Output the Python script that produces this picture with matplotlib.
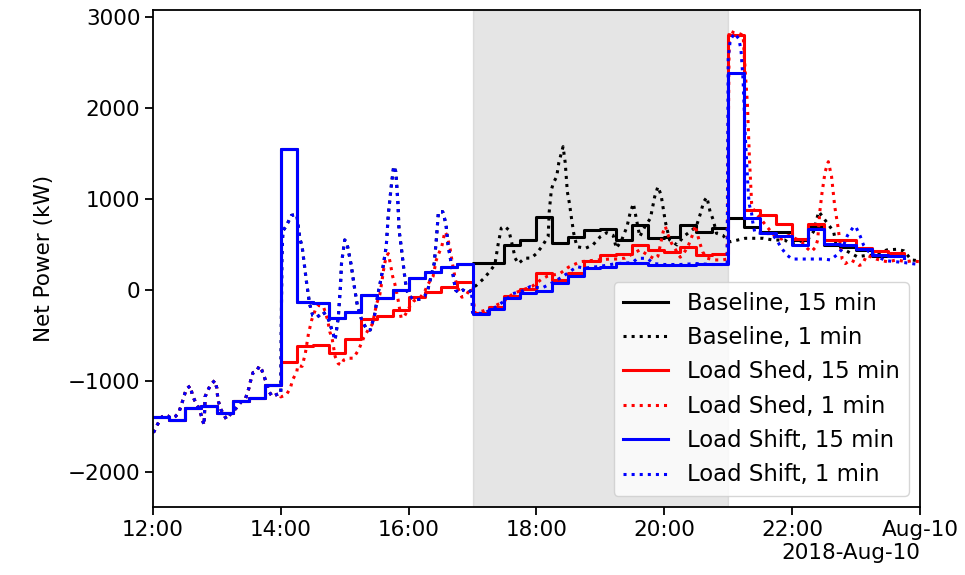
import numpy as np
import matplotlib
matplotlib.use("Agg")
import matplotlib.pyplot as plt

# ---------------- 15-minute step data (12:00 ... 23:45) ----------------
shift_15 = [-1400, -1430, -1300, -1270, -1350, -1215, -1190, -1045,
            1550, -130, -145, -310, -240, -50, -90, 0,
            135, 195, 255, 290,
            -265, -210, -90, -37, -11, 81, 158, 245,
            250, 293, 293, 275, 275, 275, 280, 282,
            2381, 788, 623, 593, 491, 670, 505, 495, 447, 385, 373, 350]

shed_15 = [-1400, -1430, -1300, -1270, -1350, -1215, -1190, -1045,
           -790, -620, -605, -695, -540, -320, -290, -220,
           -80, -20, 30, 90,
           -250, -183, -62, 7, 190, 110, 183, 322,
           385, 400, 490, 440, 421, 476, 385, 395,
           2802, 879, 824, 725, 557, 725, 549, 549, 465, 432, 403, 385]

base_15_evening = [293, 293, 495, 549, 806, 513, 586, 655,
                   670, 549, 714, 568, 586, 714, 641, 678,
                   788, 689, 641, 641, 549, 700, 495, 476, 440, 374, 373, 350]
base_15 = shift_15[:20] + base_15_evening

# ---------------- 1-minute data (read as knots: time, kW) ----------------
shift_1_t = ["12:00", "12:01", "12:04", "12:08", "12:11", "12:14", "12:17", "12:21", "12:24", "12:27",
             "12:30", "12:32", "12:35", "12:37", "12:39", "12:44", "12:46", "12:48", "12:49", "12:51",
             "12:54", "12:58", "13:00", "13:01", "13:04", "13:09", "13:12", "13:18", "13:23", "13:27",
             "13:30", "13:32", "13:34", "13:37", "13:40", "13:42", "13:45", "13:49", "13:52", "13:56",
             "13:59", "14:00", "14:01", "14:02", "14:05", "14:10", "14:15", "14:18", "14:20", "14:24",
             "14:27", "14:30", "14:34", "14:40", "14:45", "14:48", "14:51", "14:54", "14:56", "14:57",
             "15:00", "15:02", "15:06", "15:09", "15:12", "15:16", "15:21", "15:24", "15:28", "15:31",
             "15:35", "15:39", "15:41", "15:44", "15:46", "15:48", "15:50", "15:51", "15:53", "15:56",
             "15:58", "16:01", "16:06", "16:11", "16:15", "16:18", "16:24", "16:26", "16:28", "16:32",
             "16:35", "16:37", "16:41", "16:44", "16:47", "16:51", "16:56", "16:59",
             "17:00", "17:10", "17:20", "17:30", "17:38", "17:47", "17:54", "18:05", "18:15", "18:25",
             "18:38", "18:45", "19:00", "19:15", "19:30", "19:35", "19:44", "19:50", "20:00", "20:15",
             "20:30", "20:45", "20:59", "21:00", "21:02", "21:06", "21:10", "21:12", "21:14", "21:16",
             "21:19", "21:20", "21:22", "21:23", "21:25", "21:35", "21:41", "21:46", "21:50", "21:55",
             "22:00", "22:10", "22:20", "22:30", "22:36", "22:42", "22:47", "22:52", "22:58", "23:00",
             "23:04", "23:07", "23:12", "23:20", "23:28", "23:38", "23:46", "23:55", "24:00"]
shift_1_v = [-1560, -1557, -1484, -1400, -1374, -1385, -1410, -1390, -1355, -1253,
             -1136, -1080, -1055, -1154, -1209, -1319, -1410, -1484, -1172, -1117,
             -1044, -996, -1080, -1209, -1319, -1421, -1374, -1300, -1227, -1190,
             -1081, -982, -908, -897, -835, -875, -971, -1117, -1172, -1150,
             -1136, -1140, 350, 650, 700, 820, 830, 560, 480, 100,
             -150, -280, -300, -240, -330, -440, -550, -300, 40, 290,
             550, 520, 280, 40, -180, -330, -440, -440, -280, -60,
             180, 480, 840, 1170, 1360, 1300, 950, 660, 480, 180,
             0, -70, -110, -100, -70, 0, 290, 550, 860, 860,
             730, 500, 220, 0, -30, 0, -30, 0,
             -250, -260, -200, -120, -40, -10, 37, 20, 80, 150,
             256, 240, 260, 290, 300, 348, 348, 290, 280, 280,
             290, 280, 280, 2550, 2750, 2820, 2760, 2640, 2300, 1700,
             1040, 930, 840, 750, 630, 620, 620, 540, 460, 385,
             340, 340, 340, 340, 330, 385, 450, 600, 700, 690,
             590, 495, 420, 366, 322, 310, 300, 286, 280]

shed_1_t = ["14:00", "14:05", "14:09", "14:11", "14:15", "14:16", "14:20", "14:23", "14:26", "14:29",
            "14:33", "14:35", "14:40", "14:44", "14:46", "14:48", "14:51", "14:54", "14:57", "14:59",
            "15:03", "15:08", "15:13", "15:18", "15:22", "15:26", "15:30", "15:33", "15:35", "15:37",
            "15:39", "15:41", "15:43", "15:45", "15:47", "15:50", "15:53", "15:56", "16:01", "16:05",
            "16:11", "16:15", "16:18", "16:23", "16:26", "16:29", "16:31", "16:34", "16:36", "16:39",
            "16:41", "16:44", "16:47", "16:50", "16:54", "16:58", "17:00", "17:02", "17:10", "17:20",
            "17:29", "17:38", "17:47", "17:56", "18:05", "18:10", "18:22", "18:30", "18:41", "18:57",
            "19:09", "19:16", "19:23", "19:37", "19:45", "19:51", "19:54", "19:59", "20:01", "20:03",
            "20:07", "20:15", "20:18", "20:22", "20:27", "20:29", "20:33", "20:36", "20:40", "20:47",
            "20:55", "20:59", "21:01", "21:05", "21:10", "21:14", "21:16", "21:18", "21:20", "21:22",
            "21:25", "21:30", "21:36", "21:44", "21:50", "21:57", "22:04", "22:09", "22:14", "22:18",
            "22:22", "22:24", "22:26", "22:28", "22:31", "22:34", "22:37", "22:40", "22:43", "22:47",
            "22:50", "22:55", "23:00", "23:03", "23:06", "23:10", "23:15", "23:19", "23:25", "23:30",
            "23:38", "23:47", "23:52", "24:00"]
shed_1_v = [-1175, -1155, -1080, -990, -900, -830, -840, -700, -480, -330,
            -200, -170, -180, -330, -460, -520, -730, -810, -824, -770,
            -750, -750, -660, -520, -440, -375, -150, -50, 100, 260,
            370, 400, 280, 150, 70, -100, -310, -290, -183, -120,
            -80, -20, 60, 150, 330, 420, 470, 640, 600, 450,
            300, 110, 0, -80, -60, 20, 20, -250, -230, -180,
            -130, -40, 0, 40, 120, 150, 180, 250, 310, 330,
            340, 340, 350, 440, 380, 340, 370, 640, 700, 620,
            510, 360, 400, 470, 620, 710, 530, 420, 350, 330,
            330, 340, 2850, 2830, 2820, 2800, 2400, 2050, 1430, 950,
            850, 790, 700, 590, 560, 600, 560, 530, 460, 420,
            470, 550, 860, 1060, 1300, 1410, 1250, 920, 700, 340,
            290, 330, 300, 270, 280, 380, 360, 340, 320, 310,
            330, 310, 320, 310]

base_1_t = ["17:00", "17:04", "17:10", "17:16", "17:21", "17:24", "17:27", "17:30", "17:34", "17:38",
            "17:40", "17:43", "17:49", "17:55", "18:00", "18:05", "18:11", "18:12", "18:14", "18:16",
            "18:19", "18:21", "18:25", "18:27", "18:29", "18:31", "18:33", "18:35", "18:38", "18:46",
            "18:53", "19:00", "19:06", "19:12", "19:15", "19:20", "19:25", "19:28", "19:31", "19:34",
            "19:37", "19:42", "19:47", "19:51", "19:54", "19:57", "20:01", "20:05", "20:12", "20:18",
            "20:24", "20:30", "20:34", "20:37", "20:40", "20:43", "20:46", "20:49", "20:55", "20:59",
            "21:02", "21:16", "21:33", "21:42", "21:53", "21:58", "22:06", "22:15", "22:20", "22:25",
            "22:29", "22:32", "22:39", "22:41", "22:51", "23:01", "23:10", "23:16", "23:29", "23:38",
            "23:45", "23:52", "24:00"]
base_1_v = [20, 55, 120, 200, 280, 500, 680, 700, 660, 460,
            350, 290, 350, 350, 400, 476, 586, 860, 1100, 1180,
            1245, 1400, 1575, 1400, 1080, 950, 780, 623, 476, 458,
            495, 586, 630, 600, 458, 549, 696, 850, 950, 769,
            586, 700, 788, 1025, 1135, 1044, 750, 549, 495, 586,
            640, 696, 842, 970, 1020, 861, 769, 623, 600, 550,
            530, 568, 568, 549, 549, 513, 531, 560, 640, 861,
            800, 751, 641, 516, 430, 366, 380, 380, 440, 447,
            430, 330, 320]

x_tick_hours = [12, 14, 16, 18, 20, 22, 24]
x_tick_labels = ["12:00", "14:00", "16:00", "18:00", "20:00", "22:00", "Aug-10"]
y_ticks = [-2000, -1000, 0, 1000, 2000, 3000]


def hours(ts):
    return np.array([int(s[:2]) + int(s[3:]) / 60.0 for s in ts])


t15 = 12 + np.arange(len(shift_15)) * 0.25

# shed and baseline 1-min equal the shift trace before they diverge
idx14 = shift_1_t.index("14:00")
idx17 = shift_1_t.index("17:00")
shed_t = hours(shift_1_t[:idx14] + shed_1_t)
shed_v = np.array(shift_1_v[:idx14] + shed_1_v)
base_t = hours(shift_1_t[:idx17] + base_1_t)
base_v = np.array(shift_1_v[:idx17] + base_1_v)
shift_t = hours(shift_1_t)
shift_v = np.array(shift_1_v)

FS = 15.5
fig = plt.figure(figsize=(9.65, 5.75), dpi=100)
ax = fig.add_axes([0.1585, 0.1183, 0.7948, 0.8643])
for sp in ax.spines.values():
    sp.set_linewidth(1.3)

ax.axvspan(17, 21, color="gray", alpha=0.2)

lw = 2.2
ax.plot(t15, base_15, color="k", lw=lw, drawstyle="steps-post", label="Baseline, 15 min")
ax.plot(base_t, base_v, color="k", lw=lw, ls=":", label="Baseline, 1 min")
ax.plot(t15, shed_15, color="r", lw=lw, drawstyle="steps-post", label="Load Shed, 15 min")
ax.plot(shed_t, shed_v, color="r", lw=lw, ls=":", label="Load Shed, 1 min")
ax.plot(t15, shift_15, color="b", lw=lw, drawstyle="steps-post", label="Load Shift, 15 min")
ax.plot(shift_t, shift_v, color="b", lw=lw, ls=":", label="Load Shift, 1 min")

ax.set_xlim(12, 24)
ax.set_ylim(-2385, 3077)
ax.set_xticks(x_tick_hours)
ax.set_xticklabels(x_tick_labels, fontsize=FS)
ax.set_yticks(y_ticks)
ax.set_yticklabels([f"\u2212{abs(v)}" if v < 0 else str(v) for v in y_ticks], fontsize=FS)
ax.tick_params(length=5.6, width=1.3, pad=3.5)
ax.set_ylabel("Net Power (kW)", fontsize=FS, labelpad=10)
ax.text(1.0, -0.093, "2018-Aug-10", transform=ax.transAxes, ha="right", va="center", fontsize=FS)

ax.legend(loc="lower right", fontsize=16.4, handlelength=2.0)

fig.savefig("out.png", dpi=100)
